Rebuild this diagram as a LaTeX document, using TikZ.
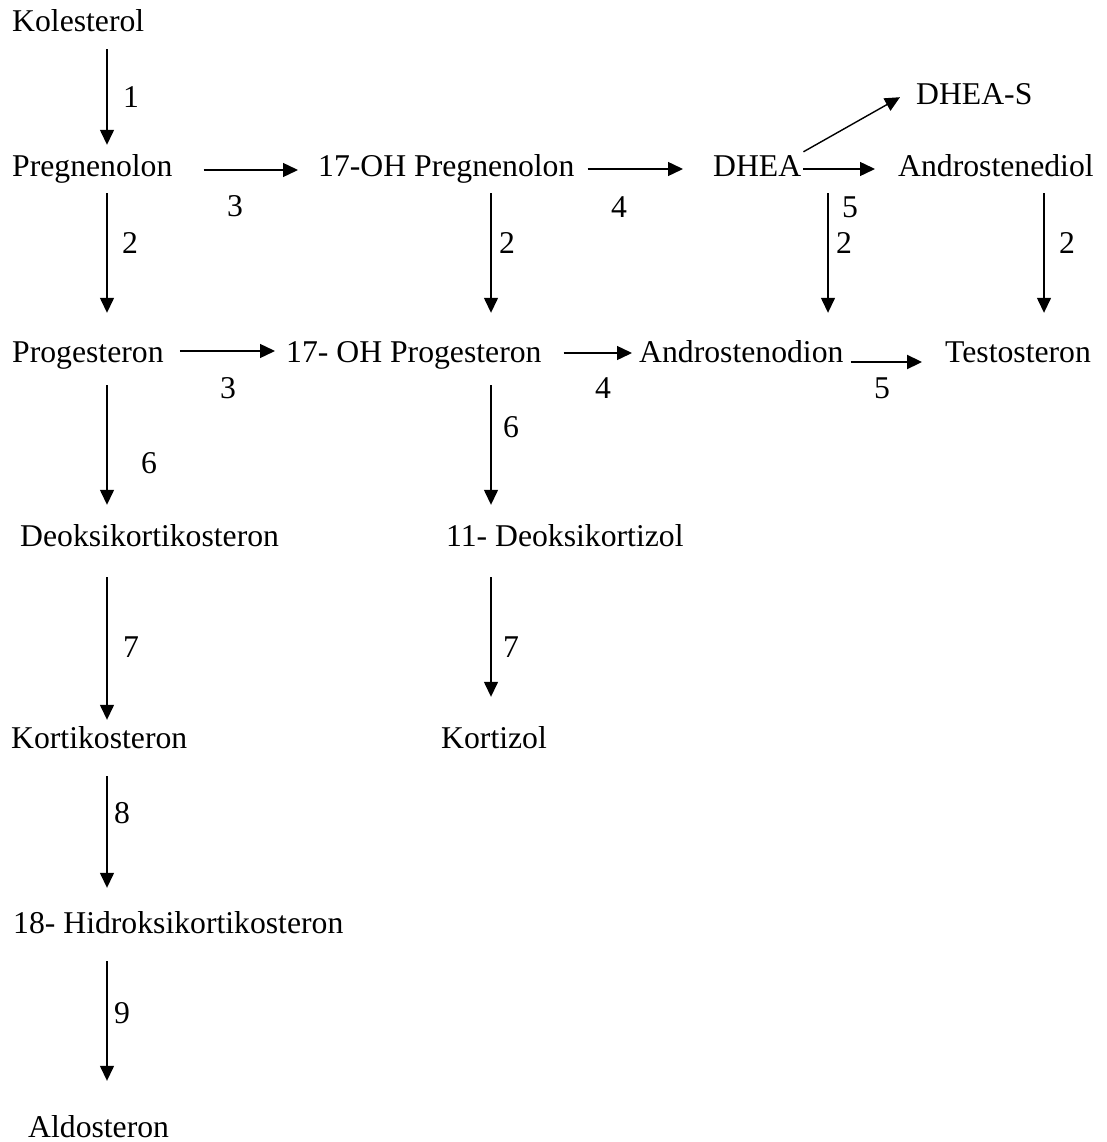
\documentclass[tikz,border=0pt]{standalone}
\usepackage{fontspec}
\setmainfont{Liberation Serif}
\usetikzlibrary{arrows.meta}
\begin{document}
\begin{tikzpicture}[x=1pt,y=-1pt,
  txt/.style={font=\fontsize{31.7}{38}\selectfont, inner sep=0pt, anchor=base west, text height=21pt, text depth=7pt},
  lbl/.style={font=\fontsize{31.7}{38}\selectfont, inner sep=0pt, anchor=center},
  arr/.style={line width=1.4pt, -{Triangle[length=15pt,width=14pt]}}]
\useasboundingbox (0,0) rectangle (1106,1142);
% column coordinates
\coordinate (c1) at (107,0);
\coordinate (c2) at (491,0);
\coordinate (c3) at (828,0);
\coordinate (c4) at (1044,0);
% nodes
\node[txt] (kol) at (12,32) {Kolesterol};
\node[txt] (preg) at (12,177) {Pregnenolon};
\node[txt] (ohpreg) at (318,177) {17-OH Pregnenolon};
\node[txt] (dhea) at (713,177) {DHEA};
\node[txt] (dheas) at (916,105) {DHEA-S};
\node[txt] (adiol) at (898,177) {Androstenediol};
\node[txt] (prog) at (12,362) {Progesteron};
\node[txt] (ohprog) at (286,362) {17- OH Progesteron};
\node[txt] (adion) at (639,362) {Androstenodion};
\node[txt] (testo) at (945,362) {Testosteron};
\node[txt] (doc) at (20,546) {Deoksikortikosteron};
\node[txt] (dcort) at (446,546) {11- Deoksikortizol};
\node[txt] (cortico) at (11,748) {Kortikosteron};
\node[txt] (cortisol) at (441,748) {Kortizol};
\node[txt] (hcort) at (13,933) {18- Hidroksikortikosteron};
\node[txt,text depth=0pt] (aldo) at (28,1137) {Aldosteron};
% vertical arrows, column 1
\draw[arr,shorten <=10pt,shorten >=11pt] (kol.south -| c1) -- (preg.north -| c1);
\draw[arr,shorten <=9pt,shorten >=28pt] (preg.south -| c1) -- (prog.north -| c1);
\draw[arr,shorten <=16pt,shorten >=20pt] (prog.south -| c1) -- (doc.north -| c1);
\draw[arr,shorten <=24pt,shorten >=7pt] (doc.south -| c1) -- (cortico.north -| c1);
\draw[arr,shorten <=21pt,shorten >=24pt] (cortico.south -| c1) -- (hcort.north -| c1);
\draw[arr,shorten <=21pt,shorten >=35pt] (hcort.south -| c1) -- (aldo.north -| c1);
% column 2
\draw[arr,shorten <=9pt,shorten >=28pt] (ohpreg.south -| c2) -- (ohprog.north -| c2);
\draw[arr,shorten <=16pt,shorten >=20pt] (ohprog.south -| c2) -- (dcort.north -| c2);
\draw[arr,shorten <=24pt,shorten >=30pt] (dcort.south -| c2) -- (cortisol.north -| c2);
% column 3 and 4
\draw[arr,shorten <=9pt,shorten >=28pt] (dhea.south -| c3) -- (adion.north -| c3);
\draw[arr,shorten <=9pt,shorten >=28pt] (adiol.south -| c4) -- (testo.north -| c4);
% horizontal arrows
\draw[arr,shorten <=31pt,shorten >=20pt] (preg.east) -- (ohpreg.west);
\draw[arr,shorten <=13pt,shorten >=30pt] ([yshift=1pt]ohpreg.east) -- ([yshift=1pt]dhea.west);
\draw[arr,shorten <=2pt,shorten >=23pt] ([yshift=1pt]dhea.east) -- ([yshift=1pt]adiol.west);
\draw[arr] ([shift={(2,-4)}]dhea.north east) -- ([shift={(-16,-15)}]dheas.south west);
\draw[arr,shorten <=16pt,shorten >=11pt] ([yshift=4pt]prog.east) -- ([yshift=4pt]ohprog.west);
\draw[arr,shorten <=22pt,shorten >=7pt] ([yshift=2pt]ohprog.east) -- ([yshift=2pt]adion.west);
\draw[arr,line width=2.2pt,shorten <=7pt,shorten >=23pt] ([yshift=-7pt]adion.east) -- ([yshift=-7pt]testo.west);
% labels
\node[lbl] (l1) at (131,97) {1};
\node[lbl] (l2a) at (130,243) {2};
\node[lbl] (l3a) at (235,206) {3};
\node[lbl] (l2b) at (507,243) {2};
\node[lbl] (l4a) at (619,207) {4};
\node[lbl] (l5a) at (850,207) {5};
\node[lbl] (l2c) at (844,243) {2};
\node[lbl] (l2d) at (1067,243) {2};
\node[lbl] (l3b) at (228,388) {3};
\node[lbl] (l4b) at (603,388) {4};
\node[lbl] (l5b) at (882,388) {5};
\node[lbl] (l6a) at (149,463) {6};
\node[lbl] (l6b) at (511,427) {6};
\node[lbl] (l7a) at (131,647) {7};
\node[lbl] (l7b) at (511,647) {7};
\node[lbl] (l8) at (122,813) {8};
\node[lbl] (l9) at (122,1013) {9};
\end{tikzpicture}
\end{document}
